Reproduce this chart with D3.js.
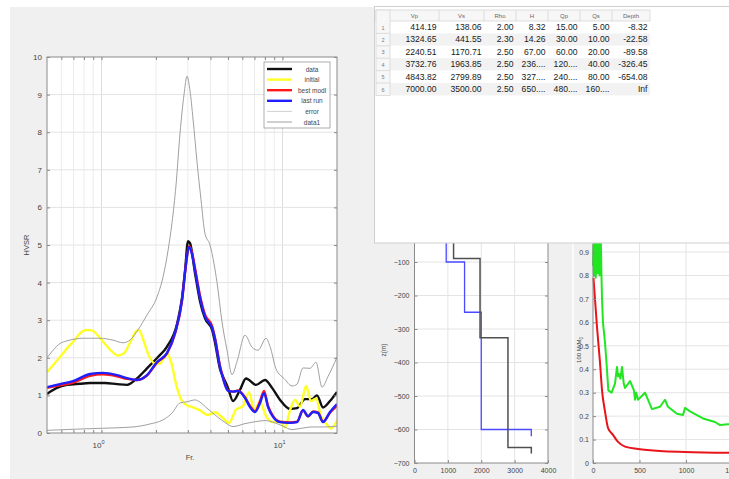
<!DOCTYPE html>
<meta charset="utf-8">
<style>
body { margin: 0; background: #fff; }
svg { display: block; font-family: "Liberation Sans", Arial, sans-serif; }
.grid line { stroke: #e4e4e4; stroke-width: 1; }
.ax path { display: none; }
.ax line { stroke: #8a8a8a; }
.ax text { fill: #444; }
</style>
<svg width="729" height="479"></svg>
<script src="https://d3js.org/d3.v7.min.js"></script>
<script>

// HVSR curves (frequency Hz / amplitude)
var dataFreq = [0.5, 0.567, 0.645, 0.761, 0.864, 1.046, 1.218, 1.384, 1.57, 1.784, 2.053, 2.302, 2.614, 2.786, 2.893, 3.006, 3.083, 3.287, 3.503, 3.731, 4.08, 4.239, 4.518, 4.693, 5.0, 5.328, 5.824, 6.287, 7.142, 8.008, 8.755, 9.696, 11.0, 12.03, 13.32, 14.56, 15.51, 16.74, 18.3, 20.0];
var dataHv = [1.04, 1.2, 1.28, 1.31, 1.33, 1.33, 1.30, 1.28, 1.45, 1.72, 2.02, 2.3, 2.9, 3.6, 4.3, 5.1, 5.05, 4.25, 3.5, 3.05, 2.75, 2.4, 1.7, 1.5, 1.2, 0.85, 1.15, 1.45, 1.28, 1.41, 1.2, 0.88, 0.64, 0.66, 0.9, 0.9, 1.0, 0.68, 0.85, 1.09];

var initFreq = [0.5, 0.54, 0.59, 0.645, 0.696, 0.761, 0.821, 0.886, 0.944, 1.032, 1.115, 1.234, 1.332, 1.437, 1.551, 1.61, 1.695, 1.83, 1.976, 2.106, 2.216, 2.302, 2.422, 2.581, 2.75, 2.931, 3.204, 3.503, 3.877, 4.239, 4.634, 5.064, 5.535, 6.05, 6.532, 6.962, 7.515, 8.11, 8.868, 9.696, 10.33, 11.0, 11.73, 12.5, 13.49, 14.37, 15.32, 16.32, 17.62, 18.54, 20.0];
var initHv = [1.62, 1.8, 2.02, 2.25, 2.42, 2.65, 2.74, 2.73, 2.62, 2.4, 2.22, 2.06, 2.12, 2.4, 2.7, 2.74, 2.5, 2.05, 1.85, 1.85, 2.0, 2.1, 1.9, 1.3, 0.9, 0.75, 0.68, 0.6, 0.48, 0.55, 0.42, 0.27, 0.62, 0.72, 1.08, 0.62, 0.82, 0.45, 0.29, 0.3, 0.15, 0.6, 0.88, 0.7, 1.25, 0.85, 0.92, 0.45, 0.22, 0.12, 0.33];

var runFreq = [0.5, 0.59, 0.696, 0.864, 1.019, 1.218, 1.384, 1.57, 1.784, 2.027, 2.302, 2.548, 2.786, 2.931, 3.044, 3.163, 3.287, 3.503, 3.731, 4.08, 4.239, 4.518, 4.693, 5.0, 5.328, 5.679, 6.207, 6.616, 7.051, 7.515, 7.906, 8.32, 8.868, 9.696, 11.0, 12.03, 12.98, 13.84, 14.75, 15.71, 16.74, 18.3, 20.0];
var bestHv = [1.2, 1.27, 1.34, 1.52, 1.56, 1.51, 1.44, 1.41, 1.53, 1.87, 2.12, 2.64, 3.52, 4.5, 4.97, 4.8, 4.38, 3.65, 3.15, 2.85, 2.52, 1.78, 1.47, 1.13, 1.1, 1.13, 0.95, 0.72, 0.58, 0.85, 1.12, 0.72, 0.45, 0.3, 0.28, 0.3, 0.6, 0.44, 0.57, 0.55, 0.3, 0.54, 0.72];
var lastHv = [1.22, 1.3, 1.38, 1.57, 1.6, 1.54, 1.46, 1.41, 1.54, 1.89, 2.13, 2.66, 3.54, 4.5, 4.95, 4.75, 4.33, 3.6, 3.1, 2.8, 2.5, 1.75, 1.45, 1.12, 1.1, 1.12, 0.93, 0.69, 0.56, 0.8, 1.06, 0.69, 0.43, 0.29, 0.27, 0.29, 0.61, 0.45, 0.56, 0.53, 0.29, 0.56, 0.77];

var errFreq = [0.5, 0.54, 0.59, 0.645, 0.714, 0.79, 0.981, 1.158, 1.315, 1.437, 1.59, 1.784, 2.027, 2.188, 2.331, 2.453, 2.581, 2.716, 2.857, 2.968, 3.083, 3.204, 3.372, 3.547, 3.731, 3.977, 4.185, 4.348, 4.634, 4.937, 5.261, 5.606, 6.207, 6.787, 7.325, 8.11, 8.535, 9.213, 10.2, 11.29, 12.03, 12.98, 14.19, 15.32, 16.53, 17.84, 20.0];
var errHv = [2.0, 2.2, 2.38, 2.45, 2.5, 2.52, 2.52, 2.47, 2.4, 2.47, 2.74, 3.14, 3.62, 4.15, 4.85, 5.6, 6.6, 7.98, 9.0, 9.49, 9.1, 8.35, 7.2, 6.2, 5.3, 5.0, 4.5, 4.0, 2.95, 2.2, 1.55, 1.9, 2.6, 2.28, 2.2, 2.52, 2.3, 1.7, 1.45, 1.25, 1.3, 1.73, 1.72, 1.88, 1.22, 1.5, 2.02];

var data1Freq = [0.5, 0.696, 1.073, 1.493, 1.853, 2.188, 2.453, 2.716, 2.968, 3.287, 3.503, 3.828, 4.239, 4.814, 5.328, 6.207, 7.051, 8.008, 9.096, 10.07, 11.29, 12.5, 14.56, 16.74, 20.0];
var data1Hv = [0.07, 0.1, 0.13, 0.16, 0.24, 0.35, 0.53, 0.8, 0.83, 0.88, 0.82, 0.66, 0.48, 0.28, 0.17, 0.25, 0.3, 0.33, 0.27, 0.18, 0.09, 0.12, 0.16, 0.16, 0.18];

var legendNames = ["data", "initial", "best modl", "last run", "error", "data1"];

// layer table
var colNames = ["Vp", "Vs", "Rho", "H", "Qp", "Qs", "Depth"];
var vpCol = ["414.19", "1324.65", "2240.51", "3732.76", "4843.82", "7000.00"];
var vsCol = ["138.06", "441.55", "1170.71", "1963.85", "2799.89", "3500.00"];
var rhoCol = ["2.00", "2.30", "2.50", "2.50", "2.50", "2.50"];
var hCol = ["8.32", "14.26", "67.00", "236....", "327....", "650...."];
var qpCol = ["15.00", "30.00", "60.00", "120....", "240....", "480...."];
var qsCol = ["5.00", "10.00", "20.00", "40.00", "80.00", "160...."];
var depthCol = ["-8.32", "-22.58", "-89.58", "-326.45", "-654.08", "Inf"];

// velocity profiles (m/s, m)
var bestVs = [138.06, 441.55, 1170.71, 1963.85, 2799.89, 3500];
var bestBottom = [-8.32, -22.58, -89.58, -326.45, -654.08, -672];
var initVs = [950, 1500, 2000, 3500];
var initBottom = [-100, -250, -600, -620];

// misfit vs iteration
var curIter = [0, 5, 10, 15, 20, 25, 30, 35, 40, 45, 50, 55, 60, 65, 70, 75, 80, 85, 90, 97, 107, 130, 150, 165, 200, 237, 258, 270, 280, 295, 312, 330, 344, 398, 440, 452, 465, 484, 559, 634, 720, 774, 806, 903, 968, 989, 1043, 1183, 1312, 1366, 1452, 1500];
var curMisfit = [0.84, 0.93, 0.8, 0.95, 0.82, 0.94, 0.79, 0.92, 0.86, 0.95, 0.81, 0.93, 0.83, 0.96, 0.8, 0.92, 0.85, 0.94, 0.82, 0.7, 0.6, 0.51, 0.4, 0.31, 0.3, 0.34, 0.41, 0.37, 0.38, 0.36, 0.41, 0.34, 0.32, 0.35, 0.31, 0.27, 0.3, 0.27, 0.3, 0.23, 0.24, 0.27, 0.24, 0.21, 0.205, 0.235, 0.22, 0.19, 0.175, 0.162, 0.165, 0.165];
var bestIter = [5, 43, 75, 97, 129, 161, 215, 269, 344, 484, 720, 989, 1500];
var bestMisfit = [0.79, 0.58, 0.43, 0.31, 0.22, 0.15, 0.12, 0.09, 0.07, 0.06, 0.051, 0.047, 0.043];

var svg = d3.select("svg");

// figure background
svg.append("rect").attr("x", 10).attr("y", 7).attr("width", 719).attr("height", 472).attr("fill", "#f0f0f0");

function zip(a, b) { return a.map(function(d, i) { return [d, b[i]]; }); }

// ================= HVSR axes =================
var hx = d3.scaleLog().domain([0.5, 20]).range([47, 337]);
var hy = d3.scaleLinear().domain([0, 10]).range([433, 57]);

var hv = svg.append("g");
hv.append("rect").attr("x", 47).attr("y", 57).attr("width", 290).attr("height", 376).attr("fill", "#fff");

var xt = hx.ticks().filter(function(d) { return d > 0.5 && d < 20; });
hv.append("g").attr("class", "grid").selectAll("line").data(xt).join("line")
    .attr("x1", hx).attr("x2", hx).attr("y1", 57).attr("y2", 433)
    .style("stroke", function(d) { return (d === 1 || d === 10) ? "#dcdcdc" : "#ececec"; });
hv.append("g").attr("class", "grid").selectAll("line").data(d3.range(1, 10)).join("line")
    .attr("x1", 47).attr("x2", 337).attr("y1", hy).attr("y2", hy);

hv.append("defs").append("clipPath").attr("id", "hclip")
  .append("rect").attr("x", 47).attr("y", 57).attr("width", 290).attr("height", 376);

var hline = d3.line()
    .x(function(d) { return hx(d[0]); })
    .y(function(d) { return hy(d[1]); })
    .curve(d3.curveMonotoneX);

var curves = [
  {f: dataFreq, v: dataHv, c: "#111", w: 2.4},
  {f: initFreq, v: initHv, c: "#ffff26", w: 2.4},
  {f: runFreq, v: bestHv, c: "#ff1a1a", w: 2.4},
  {f: runFreq, v: lastHv, c: "#2020ff", w: 2.4},
  {f: errFreq, v: errHv, c: "#a0a0a0", w: 1},
  {f: data1Freq, v: data1Hv, c: "#a0a0a0", w: 1}
];
hv.append("g").attr("clip-path", "url(#hclip)").selectAll("path").data(curves).join("path")
    .attr("d", function(d) { return hline(zip(d.f, d.v)); })
    .attr("fill", "none")
    .attr("stroke", function(d) { return d.c; })
    .attr("stroke-width", function(d) { return d.w; })
    .attr("stroke-linejoin", "round");

// ticks (inward, both sides)
hv.append("g").attr("class", "ax").attr("transform", "translate(0,433)")
    .call(d3.axisBottom(hx).tickValues(xt).tickSize(-3).tickFormat(""));
hv.append("g").attr("class", "ax").attr("transform", "translate(0,57)")
    .call(d3.axisTop(hx).tickValues(xt).tickSize(-3).tickFormat(""));
hv.append("g").attr("class", "ax").attr("transform", "translate(47,0)")
    .call(d3.axisLeft(hy).ticks(10).tickSize(-3).tickPadding(5))
    .selectAll("text").style("font-size", "8px");
hv.append("g").attr("class", "ax").attr("transform", "translate(337,0)")
    .call(d3.axisRight(hy).ticks(10).tickSize(-3).tickFormat(""));
hv.append("rect").attr("x", 47).attr("y", 57).attr("width", 290).attr("height", 376)
    .attr("fill", "none").attr("stroke", "#8a8a8a");

var decades = [1, 10];
var dl = hv.selectAll(".dec").data(decades).join("text")
    .attr("x", function(d) { return hx(d) - 3; }).attr("y", 448)
    .attr("text-anchor", "middle").style("font-size", "8px").attr("fill", "#444");
dl.append("tspan").text("10");
dl.append("tspan").attr("dy", -4).style("font-size", "5.5px").text(function(d) { return Math.log10(d); });

hv.append("text").attr("x", 190).attr("y", 460).attr("text-anchor", "middle")
    .style("font-size", "7.5px").attr("fill", "#444").text("Fr.");
hv.append("text").attr("transform", "translate(29,245) rotate(-90)").attr("text-anchor", "middle")
    .style("font-size", "7.5px").attr("fill", "#444").text("HVSR");

// legend
var lg = hv.append("g");
lg.append("rect").attr("x", 264).attr("y", 62).attr("width", 66).attr("height", 66)
    .attr("fill", "#fff").attr("stroke", "#9a9a9a").attr("stroke-width", 0.8);
var li = lg.selectAll(".li").data(legendNames).join("g")
    .attr("transform", function(d, i) { return "translate(0," + (69 + i * 10.6) + ")"; });
li.append("line").attr("x1", 267).attr("x2", 292).attr("y1", 0).attr("y2", 0)
    .attr("stroke", function(d, i) { return i === 4 ? "#d0d0d0" : curves[i].c; })
    .attr("stroke-width", function(d, i) { return i < 4 ? 2.4 : 1; });
li.append("text").attr("x", 312).attr("y", 2.5).attr("text-anchor", "middle")
    .style("font-size", "6.5px").attr("fill", "#444").text(function(d) { return d; });

// ================= velocity profile =================
var vx = d3.scaleLinear().domain([0, 4000]).range([414.5, 548]);
var vy = d3.scaleLinear().domain([-700, 0]).range([463, 228.5]);
var vp = svg.append("g");
vp.append("rect").attr("x", 414.5).attr("y", 228.5).attr("width", 133.5).attr("height", 234.5).attr("fill", "#fff");
vp.append("g").attr("class", "grid").selectAll("line").data([1000, 2000, 3000]).join("line")
    .attr("x1", vx).attr("x2", vx).attr("y1", 228.5).attr("y2", 463);
vp.append("g").attr("class", "grid").selectAll("line").data(d3.range(-600, 0, 100)).join("line")
    .attr("x1", 414.5).attr("x2", 548).attr("y1", vy).attr("y2", vy);

function stepPoints(vs, bottoms) {
  var pts = [[vs[0], 0]];
  vs.forEach(function(v, i) {
    pts.push([v, bottoms[i]]);
    if (i < vs.length - 1) pts.push([vs[i + 1], bottoms[i]]);
  });
  return pts;
}
var vline = d3.line().x(function(d) { return vx(d[0]); }).y(function(d) { return vy(d[1]); });
vp.append("path").attr("d", vline(stepPoints(initVs, initBottom)))
    .attr("fill", "none").attr("stroke", "#4a4aff").attr("stroke-width", 1.3);
vp.append("path").attr("d", vline(stepPoints(bestVs, bestBottom)))
    .attr("fill", "none").attr("stroke", "#505050").attr("stroke-width", 1.5);

vp.append("g").attr("class", "ax").attr("transform", "translate(0,463)")
    .call(d3.axisBottom(vx).ticks(4).tickSize(-3).tickPadding(5).tickFormat(d3.format("d")))
    .selectAll("text").style("font-size", "7px");
vp.append("g").attr("class", "ax").attr("transform", "translate(414.5,0)")
    .call(d3.axisLeft(vy).tickValues(d3.range(-700, 0, 100)).tickSize(-3).tickPadding(5).tickFormat(d3.format("d")))
    .selectAll("text").style("font-size", "7px");
vp.append("g").attr("class", "ax").attr("transform", "translate(548,0)")
    .call(d3.axisRight(vy).tickValues(d3.range(-700, 0, 100)).tickSize(-3).tickFormat(""));
vp.append("rect").attr("x", 414.5).attr("y", 228.5).attr("width", 133.5).attr("height", 234.5)
    .attr("fill", "none").attr("stroke", "#8a8a8a");
vp.append("text").attr("transform", "translate(386,350) rotate(-90)").attr("text-anchor", "middle")
    .style("font-size", "6.5px").attr("fill", "#444").text("z(m)");

// divider between the two small panels
svg.append("line").attr("x1", 573).attr("x2", 573).attr("y1", 243).attr("y2", 479)
    .attr("stroke", "#fafafa").attr("stroke-width", 2);

// ================= misfit =================
var mx = d3.scaleLinear().domain([0, 1500]).range([593, 732.5]);
var my = d3.scaleLinear().domain([0, 1]).range([463, 228.6]);
var mf = svg.append("g");
mf.append("rect").attr("x", 593).attr("y", 228.6).attr("width", 139.5).attr("height", 234.4).attr("fill", "#fff");
mf.append("g").attr("class", "grid").selectAll("line").data([500, 1000]).join("line")
    .attr("x1", mx).attr("x2", mx).attr("y1", 228.6).attr("y2", 463);
mf.append("g").attr("class", "grid").selectAll("line").data(d3.range(1, 10).map(function(d) { return d / 10; })).join("line")
    .attr("x1", 593).attr("x2", 732.5).attr("y1", my).attr("y2", my);

mf.append("path").attr("d", d3.line().x(function(d) { return mx(d[0]); }).y(function(d) { return my(d[1]); })(zip(curIter, curMisfit)))
    .attr("fill", "none").attr("stroke", "#22e622").attr("stroke-width", 2).attr("stroke-linejoin", "round");
mf.append("path").attr("d", d3.line().x(function(d) { return mx(d[0]); }).y(function(d) { return my(d[1]); }).curve(d3.curveMonotoneX)(zip(bestIter, bestMisfit)))
    .attr("fill", "none").attr("stroke", "#e8141a").attr("stroke-width", 2);

mf.append("g").attr("class", "ax").attr("transform", "translate(0,463)")
    .call(d3.axisBottom(mx).tickValues([0, 500, 1000, 1500]).tickSize(-3).tickPadding(5).tickFormat(d3.format("d")))
    .selectAll("text").style("font-size", "7px");
mf.append("g").attr("class", "ax").attr("transform", "translate(593,0)")
    .call(d3.axisLeft(my).tickValues(d3.range(0, 10).map(function(d) { return d / 10; })).tickSize(-3).tickPadding(4).tickFormat(d3.format("~g")))
    .selectAll("text").style("font-size", "7px");
mf.append("rect").attr("x", 593).attr("y", 228.6).attr("width", 139.5).attr("height", 234.4)
    .attr("fill", "none").attr("stroke", "#8a8a8a");
var ml = mf.append("text").attr("transform", "translate(581,350) rotate(-90)").attr("text-anchor", "middle")
    .style("font-size", "6px").attr("fill", "#444");
ml.append("tspan").text("100 M/M");
ml.append("tspan").attr("dy", 1.5).style("font-size", "4.5px").text("0");

// ================= table panel =================
var tp = svg.append("g");
tp.append("rect").attr("x", 374.5).attr("y", 6.5).attr("width", 360).attr("height", 236.5)
    .attr("fill", "#fff").attr("stroke", "#cfcfcf");

var colEdges = [390, 439, 484, 516, 548, 580, 612, 650];
var tableCols = [vpCol, vsCol, rhoCol, hCol, qpCol, qsCol, depthCol];
var headTop = 10, headH = 11, rowH = 12.4;
var nRows = vpCol.length;

// striped rows
tp.selectAll(".row").data(d3.range(nRows)).join("rect")
    .attr("x", 390).attr("y", function(i) { return headTop + headH + i * rowH; })
    .attr("width", 260).attr("height", rowH)
    .attr("fill", function(i) { return i % 2 ? "#f2f2f2" : "#fff"; });
// header cells
tp.append("rect").attr("x", 376).attr("y", headTop).attr("width", 274).attr("height", headH)
    .attr("fill", "#f7f7f7").attr("stroke", "#d6d6d6").attr("stroke-width", 0.8);
tp.append("rect").attr("x", 376).attr("y", headTop).attr("width", 14).attr("height", headH + nRows * rowH)
    .attr("fill", "#f7f7f7").attr("stroke", "#d6d6d6").attr("stroke-width", 0.8);
tp.selectAll(".sep").data(colEdges.slice(1, -1)).join("line")
    .attr("x1", function(d) { return d; }).attr("x2", function(d) { return d; })
    .attr("y1", headTop).attr("y2", headTop + headH).attr("stroke", "#d6d6d6").attr("stroke-width", 0.8);
tp.selectAll(".rsep").data(d3.range(1, nRows)).join("line")
    .attr("x1", 376).attr("x2", 390)
    .attr("y1", function(i) { return headTop + headH + i * rowH; })
    .attr("y2", function(i) { return headTop + headH + i * rowH; })
    .attr("stroke", "#d6d6d6").attr("stroke-width", 0.8);
tp.selectAll(".hd").data(colNames).join("text")
    .attr("x", function(d, i) { return (colEdges[i] + colEdges[i + 1]) / 2; })
    .attr("y", headTop + 8).attr("text-anchor", "middle")
    .style("font-size", "6px").attr("fill", "#666").text(function(d) { return d; });
tp.selectAll(".rn").data(d3.range(nRows)).join("text")
    .attr("x", 383).attr("y", function(i) { return headTop + headH + i * rowH + 8.5; })
    .attr("text-anchor", "middle").style("font-size", "5.5px").attr("fill", "#777")
    .text(function(i) { return i + 1; });
tableCols.forEach(function(col, c) {
  tp.selectAll(".c" + c).data(col).join("text")
    .attr("x", colEdges[c + 1] - 2.5)
    .attr("y", function(d, i) { return headTop + headH + i * rowH + 9; })
    .attr("text-anchor", "end").style("font-size", "8.6px").attr("fill", "#1a1a1a")
    .text(function(d) { return d; });
});
</script>
